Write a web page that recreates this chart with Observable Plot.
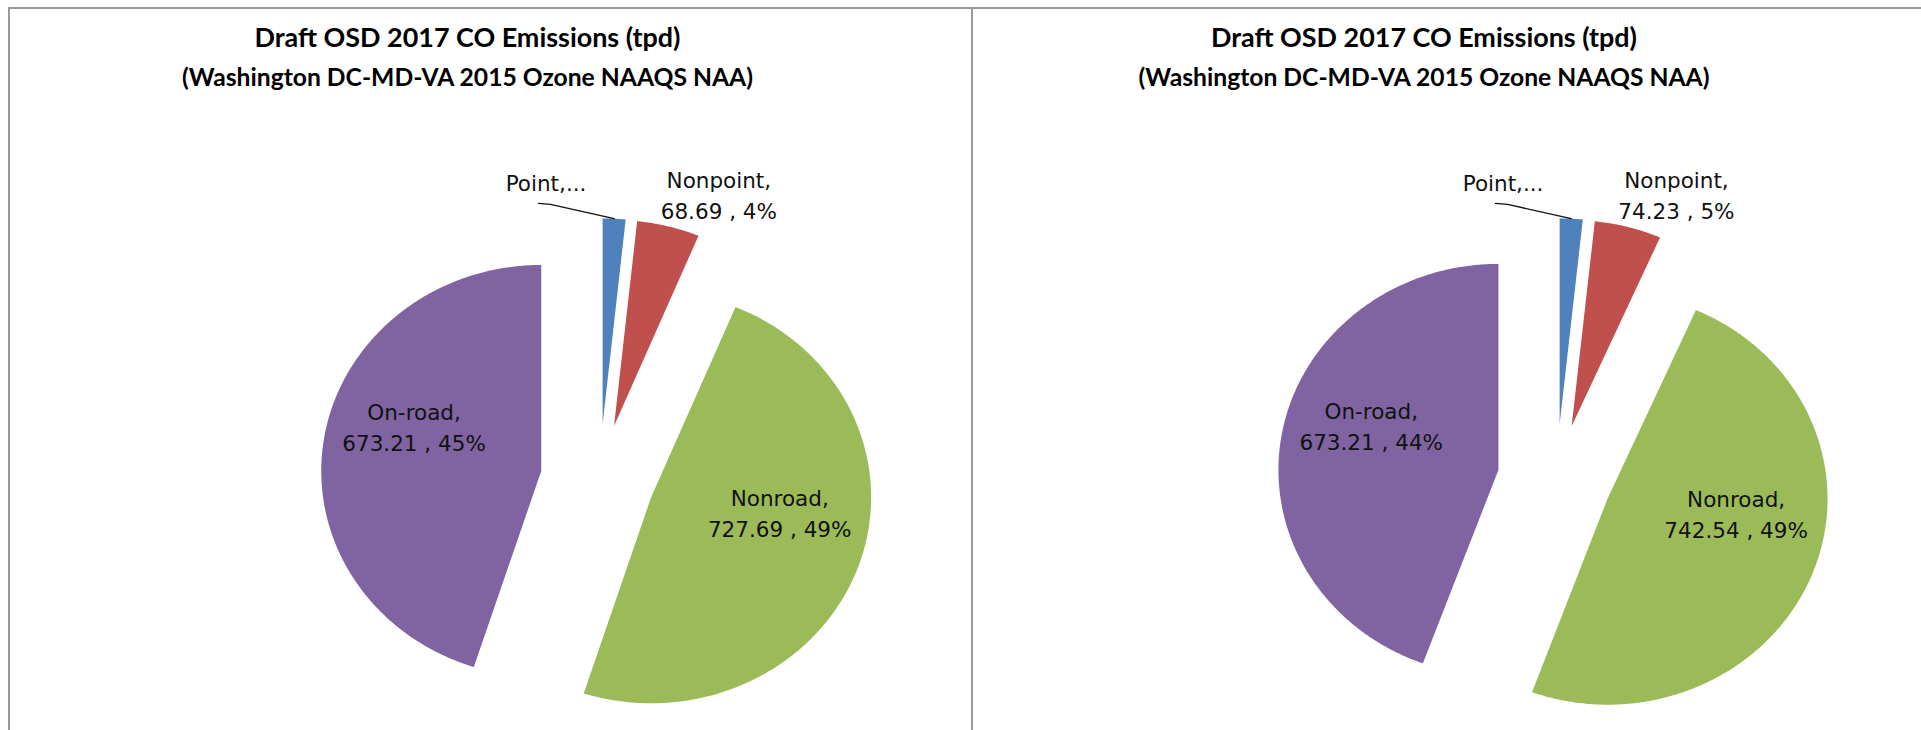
<!DOCTYPE html>
<html><head><meta charset="utf-8">
<script src="https://cdn.jsdelivr.net/npm/d3@7"></script>
<script src="https://cdn.jsdelivr.net/npm/@observablehq/plot@0.6"></script>
<style>
html,body{margin:0;padding:0;background:#fff;overflow:hidden;}
body{width:1921px;height:730px;position:relative;}
.panel{position:absolute;top:7px;height:740px;border:2px solid #9a9a9a;border-bottom:none;box-sizing:border-box;}
.panel svg{display:block;}
</style></head><body>
<div id="p0" class="panel" style="left:8px;width:965px"></div>
<div id="p1" class="panel" style="left:971px;width:952px"></div>
<script>
// ---- data ----
const categories = ["Point", "Nonpoint", "Nonroad", "On-road"];
const colors = ["#4F81BD", "#C0504D", "#9BBB59", "#8064A2"];
const titleText = "Draft OSD 2017 CO Emissions (tpd)";
const subtitleText = "(Washington DC-MD-VA 2015 Ozone NAAQS NAA)";
const valuesLeft = [25.0, 68.69, 727.69, 673.21];
const valuesRight = [25.5, 74.23, 742.54, 673.21];
const pctLeft = [2, 4, 49, 45];
const pctRight = [2, 5, 49, 44];

// ---- layout / style ----
const H = 721, RX = 220, RY = 206, CY = 470;
const explode = {"Point": 0.268, "Nonpoint": 0.268, "Nonroad": 0.25, "On-road": 0.268};
const labelPlace = { // polar placement relative to the slice apex (deg, radius)
  "Point": {a: -12.3, r: 1.207},
  "Nonpoint": {a: 22.9, r: 1.224},
  "Nonroad": {a: 96.7, r: 0.5885},
  "On-road": {a: 290.7, r: 0.618}
};
const titleWidth = 426, subtitleWidth = 571;
const rad = d => d * Math.PI / 180;

function pieChart(values, pcts, width, cx) {
  const arcs = d3.pie().sort(null).value(d => d)(values);
  const pts = [], labels = [], leader = [];
  arcs.forEach((a, i) => {
    const name = categories[i];
    const mid = (a.startAngle + a.endAngle) / 2;
    const e = explode[name];
    const ex = e * Math.sin(mid), ey = e * Math.cos(mid);
    pts.push({name, x: ex, y: ey});
    const n = Math.max(4, Math.ceil((a.endAngle - a.startAngle) / rad(0.5)));
    for (let k = 0; k <= n; k++) {
      const t = a.startAngle + (a.endAngle - a.startAngle) * k / n;
      pts.push({name, x: ex + Math.sin(t), y: ey + Math.cos(t)});
    }
    const p = labelPlace[name];
    const text = name === "Point" ? "Point,..." :
      `${name},\n${values[i].toFixed(2)} , ${pcts[i]}%`;
    labels.push({name, text, x: ex + p.r * Math.sin(rad(p.a)), y: ey + p.r * Math.cos(rad(p.a))});
    if (name === "Point") {
      leader.push({x: ex + 1.112 * Math.sin(rad(-15.2)), y: ey + 1.112 * Math.cos(rad(-15.2))});
      leader.push({x: ex + 1.094 * Math.sin(rad(-12.5)), y: ey + 1.094 * Math.cos(rad(-12.5))});
      leader.push({x: ex + 1.0 * Math.sin(mid), y: ey + 1.0 * Math.cos(mid)});
    }
  });
  return Plot.plot({
    width, height: H, margin: 0,
    x: {domain: [-cx / RX, (width - cx) / RX], axis: null},
    y: {domain: [(CY - H) / RY, CY / RY], axis: null},
    color: {domain: categories, range: colors},
    marks: [
      Plot.line(pts, {x: "x", y: "y", z: "name", fill: "name", stroke: "none", curve: "linear"}),
      Plot.line(leader, {x: "x", y: "y", stroke: "#111", strokeWidth: 1.3}),
      Plot.text(labels, {x: "x", y: "y", text: "text", fontSize: 21.5, lineHeight: 1.45,
        fontFamily: "DejaVu Sans", fill: "#111"}),
      Plot.text([titleText], {text: d => d, frameAnchor: "top", dx: -23.5, dy: 29, lineAnchor: "middle",
        fontSize: 28, fontWeight: "bold", fontFamily: "Lato", fill: "#000"}),
      Plot.text([subtitleText], {text: d => d, frameAnchor: "top", dx: -23.5, dy: 69, lineAnchor: "middle",
        fontSize: 26, fontWeight: "bold", fontFamily: "Lato", fill: "#000"})
    ]
  });
}

function fitTitles(svg) {
  d3.select(svg).selectAll("text").each(function() {
    const s = this.textContent;
    const target = s === titleText ? titleWidth : s === subtitleText ? subtitleWidth : null;
    if (!target) return;
    const f0 = parseFloat(getComputedStyle(this).fontSize);
    const w = this.getComputedTextLength();
    if (w > 0) this.style.fontSize = (f0 * target / w).toFixed(2) + "px";
  });
}

const s0 = pieChart(valuesLeft, pctLeft, 961, 589);
const s1 = pieChart(valuesRight, pctRight, 948, 583);
document.getElementById("p0").appendChild(s0);
document.getElementById("p1").appendChild(s1);
fitTitles(s0); fitTitles(s1);
</script>
</body></html>
